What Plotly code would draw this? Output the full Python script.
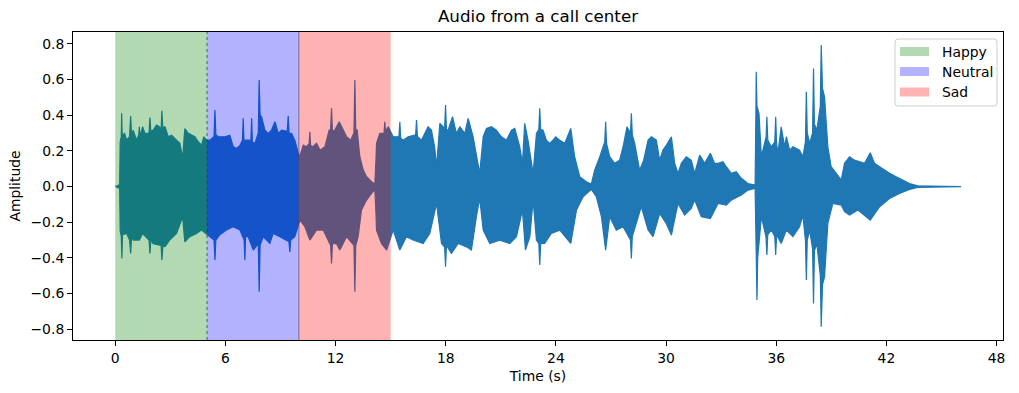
import plotly.graph_objects as go

# ---- waveform envelope (time in s, amplitude) ----
upper_t = [0.00, 0.24, 0.27, 0.33, 0.35, 0.38, 0.50, 0.62, 0.78, 0.84, 0.89, 0.98, 1.16, 1.28, 1.31, 1.36, 1.49, 1.62,
           1.84, 1.89, 1.94, 2.07, 2.25, 2.40, 2.50, 2.54, 2.59, 2.71, 2.89, 3.07, 3.34, 3.52, 3.67, 3.75, 3.79, 3.98,
           4.16, 4.34, 4.52, 4.70, 4.83, 4.97, 5.16, 5.38, 5.43, 5.48, 5.61, 5.79, 5.97, 6.24, 6.43, 6.61, 6.79, 6.93,
           6.97, 7.01, 7.15, 7.39, 7.43, 7.47, 7.61, 7.79, 7.84, 7.89, 7.97, 8.15, 8.33, 8.51, 8.70, 8.88, 9.06, 9.37,
           9.42, 9.47, 9.60, 9.78, 9.97, 10.05, 10.24, 10.42, 10.56, 10.60, 10.64, 10.78, 10.96, 11.15, 11.42, 11.65,
           11.73, 11.78, 11.83, 11.96, 12.20, 12.42, 12.60, 12.82, 13.00, 13.05, 13.10, 13.18, 13.32, 13.51, 13.69,
           13.96, 14.14, 14.20, 14.23, 14.41, 14.64, 14.68, 14.72, 14.87, 15.14, 15.45, 15.50, 15.55, 15.68, 15.95,
           16.36, 16.41, 16.46, 16.68, 17.04, 17.22, 17.40, 17.50, 17.60, 17.68, 17.86, 17.94, 17.99, 18.04, 18.13,
           18.37, 18.58, 18.77, 19.04, 19.22, 19.49, 19.67, 19.85, 20.04, 20.22, 20.49, 20.76, 21.03, 21.31, 21.58,
           21.76, 22.03, 22.18, 22.30, 22.48, 22.76, 22.94, 23.07, 23.12, 23.17, 23.30, 23.48, 23.66, 23.84, 23.99,
           24.21, 24.48, 24.81, 25.02, 25.30, 25.66, 25.93, 26.11, 26.39, 26.66, 26.71, 26.76, 26.93, 27.20, 27.47,
           27.66, 27.87, 28.06, 28.11, 28.16, 28.29, 28.56, 28.78, 29.02, 29.20, 29.47, 29.65, 29.83, 30.02, 30.29,
           30.47, 30.65, 30.83, 31.10, 31.37, 31.56, 31.83, 32.10, 32.41, 32.64, 32.83, 33.10, 33.28, 33.55, 33.82,
           34.10, 34.46, 34.85, 34.89, 34.91, 34.95, 35.06, 35.19, 35.37, 35.45, 35.49, 35.54, 35.73, 35.92, 35.97,
           36.02, 36.09, 36.27, 36.46, 36.55, 36.73, 36.91, 37.27, 37.45, 37.59, 37.64, 37.69, 37.82, 37.98, 38.03,
           38.08, 38.21, 38.40, 38.45, 38.52, 38.63, 38.81, 38.99, 39.27, 39.54, 39.72, 39.99, 40.26, 40.54, 40.81,
           41.12, 41.35, 41.63, 41.90, 42.17, 42.53, 42.90, 43.26, 43.71, 46.07]
upper_a = [0.00, 0.01, 0.25, 0.28, 0.41, 0.28, 0.30, 0.26, 0.28, 0.395, 0.29, 0.316, 0.26, 0.29, 0.335, 0.28, 0.335,
           0.298, 0.30, 0.387, 0.31, 0.316, 0.345, 0.335, 0.32, 0.425, 0.33, 0.335, 0.279, 0.288, 0.26, 0.242, 0.158,
           0.27, 0.324, 0.298, 0.288, 0.279, 0.251, 0.232, 0.279, 0.26, 0.26, 0.28, 0.429, 0.29, 0.279, 0.279, 0.279,
           0.288, 0.223, 0.214, 0.23, 0.26, 0.382, 0.26, 0.26, 0.26, 0.382, 0.25, 0.242, 0.30, 0.597, 0.40, 0.391,
           0.316, 0.298, 0.316, 0.363, 0.298, 0.316, 0.31, 0.395, 0.30, 0.298, 0.26, 0.186, 0.167, 0.232, 0.223, 0.24,
           0.307, 0.23, 0.223, 0.242, 0.204, 0.223, 0.316, 0.32, 0.438, 0.31, 0.316, 0.363, 0.316, 0.279, 0.26, 0.30,
           0.597, 0.32, 0.316, 0.167, 0.092, 0.055, 0.027, 0.014, 0.15, 0.242, 0.298, 0.30, 0.363, 0.31, 0.335, 0.279,
           0.28, 0.363, 0.27, 0.26, 0.279, 0.29, 0.372, 0.28, 0.26, 0.335, 0.316, 0.22, 0.111, 0.25, 0.354, 0.335,
           0.33, 0.457, 0.32, 0.316, 0.391, 0.298, 0.335, 0.298, 0.382, 0.279, 0.186, 0.074, 0.279, 0.326, 0.335,
           0.316, 0.279, 0.26, 0.316, 0.326, 0.223, 0.13, 0.354, 0.26, 0.074, 0.298, 0.32, 0.438, 0.32, 0.316, 0.26,
           0.242, 0.26, 0.279, 0.26, 0.242, 0.326, 0.167, 0.055, 0.027, 0.014, 0.092, 0.167, 0.25, 0.363, 0.24,
           0.167, 0.13, 0.148, 0.223, 0.335, 0.30, 0.41, 0.29, 0.242, 0.092, 0.148, 0.26, 0.279, 0.26, 0.148, 0.204,
           0.232, 0.279, 0.13, 0.074, 0.13, 0.167, 0.148, 0.074, 0.176, 0.13, 0.186, 0.13, 0.13, 0.139, 0.111, 0.074,
           0.083, 0.046, 0.017, 0.008, 0.40, 0.643, 0.45, 0.41, 0.167, 0.26, 0.28, 0.391, 0.26, 0.223, 0.25, 0.391,
           0.24, 0.186, 0.335, 0.223, 0.279, 0.204, 0.223, 0.204, 0.167, 0.25, 0.531, 0.30, 0.242, 0.30, 0.662, 0.35,
           0.316, 0.45, 0.793, 0.55, 0.503, 0.223, 0.111, 0.074, 0.036, 0.13, 0.167, 0.148, 0.139, 0.13, 0.189, 0.13,
           0.111, 0.092, 0.074, 0.055, 0.036, 0.017, 0.004, 0.0]

lower_t = [0.00, 0.24, 0.27, 0.33, 0.36, 0.40, 0.62, 0.78, 0.84, 0.89, 0.98, 1.31, 1.49, 1.84, 1.89, 1.94, 2.07, 2.50,
           2.54, 2.60, 2.71, 2.96, 3.34, 3.67, 3.79, 4.06, 4.43, 4.70, 4.97, 5.38, 5.43, 5.48, 5.70, 6.06, 6.43, 6.79,
           7.02, 7.06, 7.10, 7.24, 7.52, 7.79, 7.84, 7.89, 8.06, 8.42, 8.60, 8.97, 9.46, 9.51, 9.56, 9.78, 10.06,
           10.33, 10.60, 10.96, 11.33, 11.73, 11.78, 11.83, 12.05, 12.23, 12.60, 13.00, 13.05, 13.10, 13.23, 13.41,
           13.69, 13.96, 14.14, 14.20, 14.23, 14.50, 14.78, 15.14, 15.50, 15.86, 16.22, 16.77, 17.13, 17.50, 17.77,
           17.94, 17.99, 18.04, 18.31, 18.68, 19.13, 19.40, 19.67, 19.85, 20.04, 20.40, 20.94, 21.49, 21.85, 22.18,
           22.34, 22.58, 22.76, 22.94, 23.07, 23.12, 23.17, 23.39, 23.75, 24.21, 24.81, 25.12, 25.48, 25.93, 26.20,
           26.48, 26.71, 26.93, 27.29, 27.66, 28.06, 28.11, 28.16, 28.38, 28.65, 29.02, 29.29, 29.65, 30.01, 30.29,
           30.65, 31.01, 31.37, 31.56, 31.92, 32.41, 32.83, 33.28, 33.55, 34.10, 34.46, 34.85, 34.91, 34.95, 34.99,
           35.19, 35.44, 35.49, 35.54, 35.73, 35.92, 35.97, 36.02, 36.27, 36.55, 36.91, 37.27, 37.45, 37.59, 37.64,
           37.69, 37.82, 37.98, 38.03, 38.08, 38.21, 38.40, 38.45, 38.52, 38.63, 38.81, 39.08, 39.54, 39.72, 39.99,
           40.45, 41.12, 41.63, 42.17, 42.71, 43.26, 43.71, 46.07]
lower_a = [0.00, -0.01, -0.25, -0.28, -0.403, -0.27, -0.263, -0.30, -0.375, -0.28, -0.30, -0.30, -0.263, -0.30,
           -0.375, -0.30, -0.32, -0.33, -0.412, -0.33, -0.337, -0.30, -0.263, -0.169, -0.31, -0.281, -0.263, -0.244,
           -0.263, -0.30, -0.412, -0.30, -0.27, -0.244, -0.225, -0.244, -0.30, -0.412, -0.28, -0.281, -0.356, -0.32,
           -0.59, -0.33, -0.281, -0.319, -0.263, -0.281, -0.31, -0.366, -0.30, -0.281, -0.188, -0.225, -0.30, -0.244,
           -0.244, -0.33, -0.431, -0.32, -0.319, -0.356, -0.281, -0.33, -0.59, -0.33, -0.281, -0.132, -0.076, -0.039,
           -0.016, -0.15, -0.244, -0.319, -0.356, -0.244, -0.356, -0.281, -0.30, -0.319, -0.263, -0.095, -0.319,
           -0.34, -0.45, -0.33, -0.375, -0.319, -0.338, -0.356, -0.169, -0.067, -0.244, -0.319, -0.30, -0.319,
           -0.281, -0.132, -0.356, -0.281, -0.076, -0.30, -0.32, -0.44, -0.32, -0.319, -0.263, -0.244, -0.319,
           -0.132, -0.057, -0.016, -0.057, -0.169, -0.356, -0.169, -0.244, -0.225, -0.30, -0.403, -0.28, -0.207,
           -0.113, -0.244, -0.281, -0.151, -0.207, -0.272, -0.095, -0.16, -0.123, -0.076, -0.169, -0.179, -0.095,
           -0.104, -0.076, -0.048, -0.02, -0.011, -0.45, -0.636, -0.40, -0.169, -0.28, -0.384, -0.27, -0.244, -0.28,
           -0.384, -0.27, -0.319, -0.244, -0.281, -0.225, -0.16, -0.30, -0.524, -0.30, -0.244, -0.35, -0.655, -0.36,
           -0.319, -0.50, -0.786, -0.55, -0.506, -0.207, -0.095, -0.104, -0.141, -0.16, -0.132, -0.188, -0.113,
           -0.067, -0.039, -0.016, -0.005, 0.0]

# ---- emotion segments ----
span_labels = ["Happy", "Neutral", "Sad"]
span_starts = [0, 5, 10]
span_ends = [5, 10, 15]
span_colors = ["#008000", "#0000ff", "#ff0000"]
span_swatch = ["#b3d9b3", "#b3b3ff", "#ffb3b3"]

x_ticks = [0, 6, 12, 18, 24, 30, 36, 42, 48]
y_ticks = [-0.8, -0.6, -0.4, -0.2, 0.0, 0.2, 0.4, 0.6, 0.8]
y_ticktext = ["\u22120.8", "\u22120.6", "\u22120.4", "\u22120.2", "0.0", "0.2", "0.4", "0.6", "0.8"]

W, H = 1019, 393
ML, MR, MT, MB = 73, 16, 32, 53
PW, PH = W - ML - MR, H - MT - MB
FONT = "DejaVu Sans"


def px(xp):
    return (xp - ML) / PW


def py(yp):
    return (H - MB - yp) / PH


fig = go.Figure()
fig.add_trace(go.Scatter(
    x=upper_t + lower_t[::-1], y=upper_a + lower_a[::-1],
    mode="lines", fill="toself", fillcolor="#1f77b4",
    line=dict(color="#1f77b4", width=1.2), showlegend=False, hoverinfo="skip"))

shapes = []
for s, e, c in zip(span_starts, span_ends, span_colors):
    shapes.append(dict(type="rect", xref="x", yref="paper", x0=s, x1=e, y0=0, y1=1,
                       fillcolor=c, opacity=0.3, line=dict(width=0), layer="above"))
# thin edges between segments
shapes.append(dict(type="line", xref="x", yref="paper", x0=5, x1=5, y0=0, y1=1,
                   line=dict(color="rgba(40,50,120,0.75)", width=1, dash="dot"), layer="above"))
shapes.append(dict(type="line", xref="x", yref="paper", x0=10, x1=10, y0=0, y1=1,
                   line=dict(color="rgba(90,70,110,0.7)", width=1), layer="above"))

# legend frame (rounded)
x0, x1, y0, y1 = px(895), px(997), py(106), py(39)
rx, ry = 3 / PW, 3 / PH
path = (f"M {x0+rx},{y1} L {x1-rx},{y1} Q {x1},{y1} {x1},{y1-ry} L {x1},{y0+ry} Q {x1},{y0} {x1-rx},{y0} "
        f"L {x0+rx},{y0} Q {x0},{y0} {x0},{y0+ry} L {x0},{y1-ry} Q {x0},{y1} {x0+rx},{y1} Z")
shapes.append(dict(type="path", xref="paper", yref="paper", path=path,
                   fillcolor="rgba(255,255,255,0.8)", line=dict(color="#cccccc", width=1), layer="above"))
annotations = []
row_y = [51.5, 71.5, 92.0]
for lab, sw, ry_ in zip(span_labels, span_swatch, row_y):
    shapes.append(dict(type="rect", xref="paper", yref="paper", x0=px(900), x1=px(929),
                       y0=py(ry_ + 4.5), y1=py(ry_ - 4.5), fillcolor=sw, line=dict(width=0), layer="above"))
    annotations.append(dict(xref="paper", yref="paper", x=px(940), y=py(ry_), text=lab, showarrow=False,
                            xanchor="left", yanchor="middle", font=dict(family=FONT, size=13.9, color="black")))

axis_common = dict(showline=True, linecolor="black", linewidth=1, mirror=True, ticks="outside",
                   ticklen=5, tickwidth=1, tickcolor="black", showgrid=False, zeroline=False,
                   tickfont=dict(family=FONT, size=13.9, color="black"))

fig.update_layout(
    width=W, height=H, margin=dict(l=ML, r=MR, t=MT, b=MB),
    paper_bgcolor="white", plot_bgcolor="white",
    title=dict(text="Audio from a call center", x=(ML + PW / 2) / W, xanchor="center",
               y=1 - 16 / H, yanchor="middle", font=dict(family=FONT, size=16.7, color="black")),
    xaxis=dict(range=[-2.30, 48.35], tickvals=x_ticks, ticktext=[str(v) for v in x_ticks],
               title=dict(text="Time (s)", font=dict(family=FONT, size=13.9, color="black"), standoff=6),
               **axis_common),
    yaxis=dict(range=[-0.86, 0.866], tickvals=y_ticks, ticktext=y_ticktext,
               title=dict(text="Amplitude", font=dict(family=FONT, size=13.9, color="black"), standoff=6),
               **axis_common),
    shapes=shapes, annotations=annotations, showlegend=False,
)

fig.write_html("out.html", config={"displayModeBar": False},
               post_script="document.body.style.margin='0';document.body.style.overflow='hidden';")
